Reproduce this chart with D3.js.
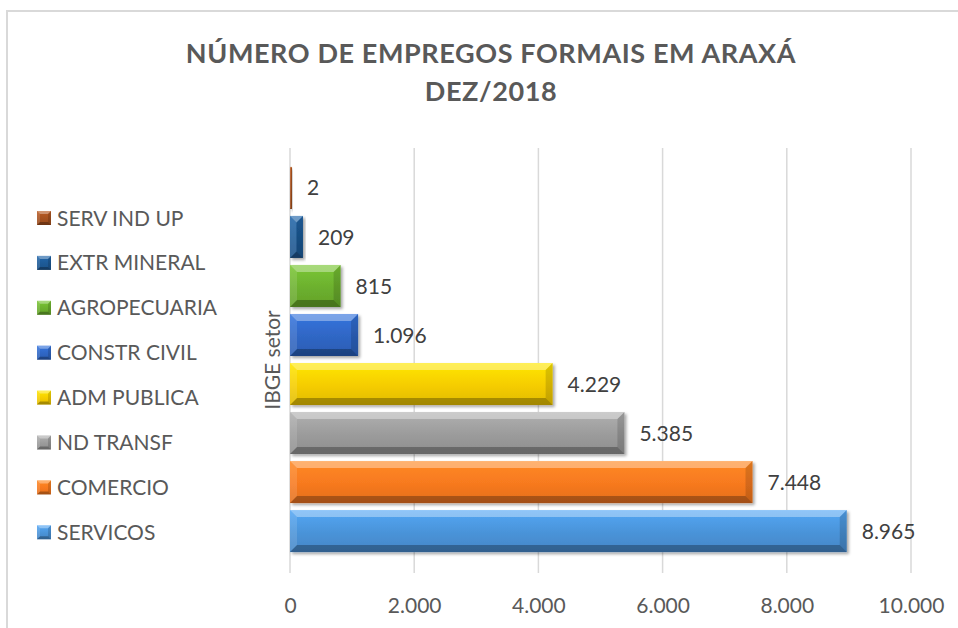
<!DOCTYPE html>
<html>
<head>
<meta charset="utf-8">
<script src="https://cdn.jsdelivr.net/npm/d3@7/dist/d3.min.js"></script>
<style>
  html, body { margin: 0; padding: 0; background: #ffffff; }
  svg { display: block; }
</style>
</head>
<body>
<svg id="chart" width="958" height="628"></svg>
<script>
// ---- data ----
const categories = ["SERVICOS", "COMERCIO", "ND TRANSF", "ADM PUBLICA", "CONSTR CIVIL", "AGROPECUARIA", "EXTR MINERAL", "SERV IND UP"];
const values = [8965, 7448, 5385, 4229, 1096, 815, 209, 2];
const colors = ["#4a93d8", "#f7791f", "#9b9b9b", "#f5cc00", "#2f66c4", "#6cb02e", "#1d5a96", "#a5511f"];
const xTicks = [0, 2000, 4000, 6000, 8000, 10000];
const titleLines = ["NÚMERO DE EMPREGOS FORMAIS EM ARAXÁ", "DEZ/2018"];
const axisTitle = "IBGE setor";

const W = 958, H = 628;
const svg = d3.select("#chart");
const font = "Lato, 'Open Sans', sans-serif";
const textColor = "#595959";

const locale = d3.formatLocale({ decimal: ",", thousands: ".", grouping: [3], currency: ["R$", ""] });
const fmt = locale.format(",");

const defs = svg.append("defs");
const shadow = defs.append("filter").attr("id", "shadow").attr("x", "-10%").attr("y", "-20%").attr("width", "130%").attr("height", "160%");
shadow.append("feDropShadow").attr("dx", 2).attr("dy", 2).attr("stdDeviation", 1.8).attr("flood-color", "#000").attr("flood-opacity", 0.35);

colors.forEach((c, i) => {
  const g = defs.append("linearGradient").attr("id", "grad" + i).attr("x1", 0).attr("y1", 0).attr("x2", 0).attr("y2", 1);
  g.append("stop").attr("offset", "0%").attr("stop-color", d3.color(c).brighter(0.35));
  g.append("stop").attr("offset", "55%").attr("stop-color", c);
  g.append("stop").attr("offset", "100%").attr("stop-color", d3.color(c).darker(0.25));
});

// border
svg.append("rect").attr("x", 7).attr("y", 11).attr("width", W + 20).attr("height", H + 20)
  .attr("fill", "none").attr("stroke", "#d9d9d9").attr("stroke-width", 2);

// title
svg.append("g").selectAll("text").data(titleLines).join("text")
  .attr("x", 491).attr("y", (d, i) => 63 + i * 38)
  .attr("text-anchor", "middle")
  .attr("font-family", font).attr("font-size", 27).attr("font-weight", 700)
  .attr("letter-spacing", 0.6)
  .attr("fill", textColor).text(d => d);

// scales
const x = d3.scaleLinear().domain([0, 10000]).range([290, 911]);
const y = d3.scaleBand().domain(categories.slice().reverse()).range([163.5, 555.5]).paddingInner(0.143).paddingOuter(0.07);
const plotTop = 148, plotBottom = 573;

// gridlines
svg.append("g").selectAll("line").data(xTicks).join("line")
  .attr("x1", d => x(d)).attr("x2", d => x(d))
  .attr("y1", plotTop).attr("y2", plotBottom)
  .attr("stroke", "#d9d9d9").attr("stroke-width", 1.5);

// x axis labels
const xAxis = d3.axisBottom(x).tickValues(xTicks).tickFormat(fmt).tickSize(0).tickPadding(0);
const ax = svg.append("g").attr("transform", `translate(0,${613})`).call(xAxis);
ax.select(".domain").remove();
ax.selectAll("text").attr("font-family", font).attr("font-size", 21).attr("fill", textColor).attr("dy", 0);

// bevel bar drawing
function bevelBar(g, x0, x1, y0, y1, i, maxB, useShadow) {
  const w = x1 - x0, h = y1 - y0;
  const b = Math.max(0, Math.min(maxB, w / 2, h / 2));
  const grp = g.append("g");
  if (useShadow) grp.attr("filter", "url(#shadow)");
  grp.append("rect").attr("x", x0).attr("y", y0).attr("width", Math.max(w, 0.1)).attr("height", h).attr("fill", `url(#grad${i})`);
  if (b > 0.5) {
    const facet = (pts, fill, op) => grp.append("polygon").attr("points", pts.map(p => p.join(",")).join(" ")).attr("fill", fill).attr("fill-opacity", op);
    facet([[x0, y0], [x1, y0], [x1 - b, y0 + b], [x0 + b, y0 + b]], "#ffffff", 0.35);
    facet([[x0, y1], [x1, y1], [x1 - b, y1 - b], [x0 + b, y1 - b]], "#000000", 0.28);
    facet([[x0, y0], [x0 + b, y0 + b], [x0 + b, y1 - b], [x0, y1]], "#ffffff", 0.12);
    facet([[x1, y0], [x1 - b, y0 + b], [x1 - b, y1 - b], [x1, y1]], "#000000", 0.14);
  }
}

const bars = svg.append("g");
categories.forEach((c, i) => {
  const y0 = y(c), y1 = y0 + y.bandwidth();
  const x1 = Math.max(x(values[i]), x(0) + 2);
  bevelBar(bars, x(0), x1, y0, y1, i, 7, true);
});

// value labels
svg.append("g").selectAll("text").data(categories).join("text")
  .attr("x", (d, i) => Math.max(x(values[i]), x(0) + 2) + 15)
  .attr("y", d => y(d) + y.bandwidth() / 2)
  .attr("dy", "0.36em")
  .attr("font-family", font).attr("font-size", 21).attr("fill", "#404040")
  .text((d, i) => fmt(values[i]));

// axis title
svg.append("text")
  .attr("transform", `translate(280,360) rotate(-90)`)
  .attr("text-anchor", "middle")
  .attr("font-family", font).attr("font-size", 21).attr("fill", textColor)
  .text(axisTitle);

// legend
const legendOrder = categories.slice().reverse();
const lg = svg.append("g");
legendOrder.forEach((c, k) => {
  const i = categories.indexOf(c);
  const cy = 218 + k * 44.9;
  bevelBar(lg, 37, 51, cy - 7, cy + 7, i, 3, false);
  lg.append("text").attr("x", 57).attr("y", cy).attr("dy", "0.36em")
    .attr("font-family", font).attr("font-size", 21).attr("fill", textColor).text(c);
});
</script>
</body>
</html>
